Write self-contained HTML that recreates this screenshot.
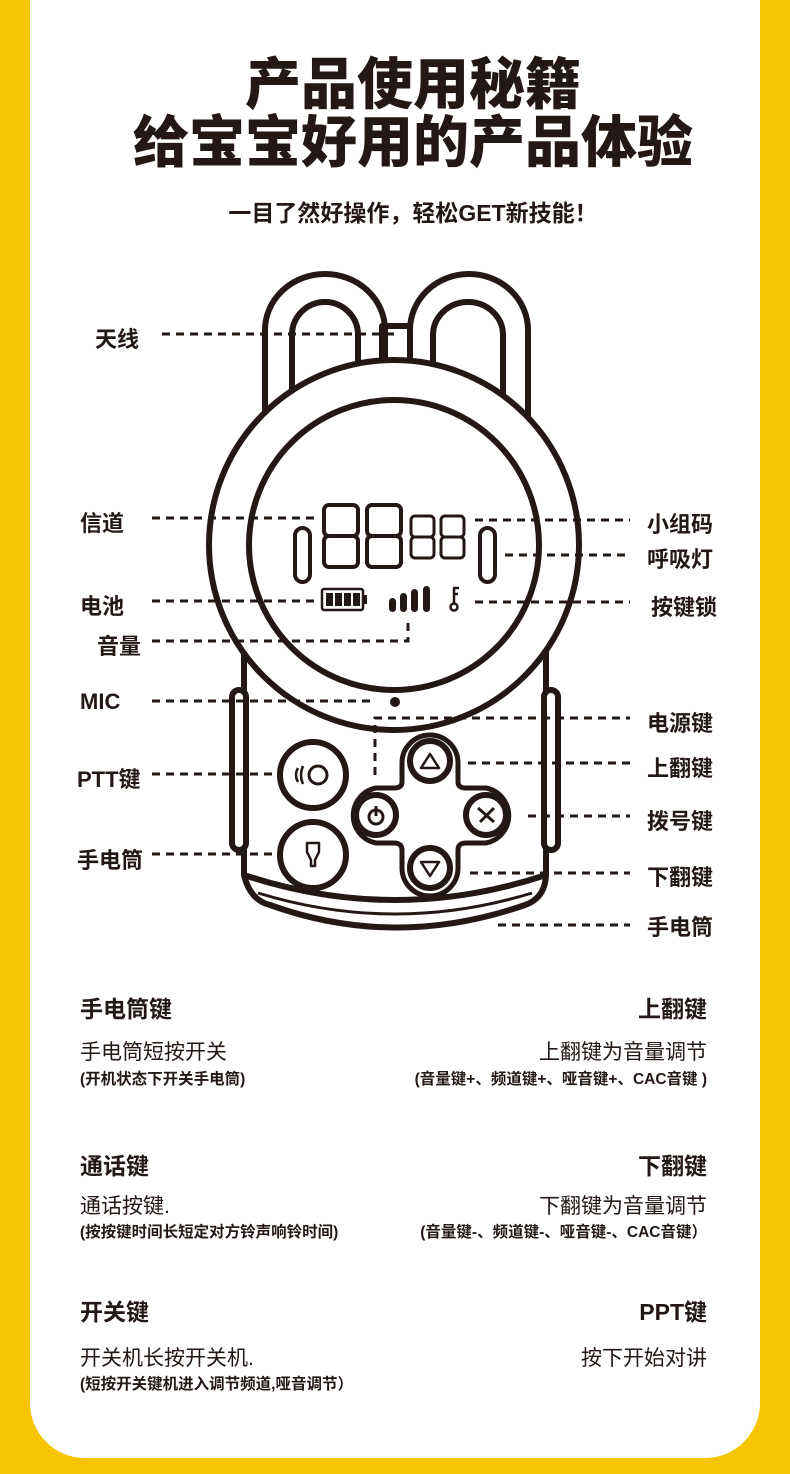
<!DOCTYPE html>
<html><head><meta charset="utf-8"><style>
body{margin:0;width:790px;height:1474px;background:#f6c500;position:relative;overflow:hidden;font-family:"Liberation Sans","Noto Sans CJK SC",sans-serif;color:#231815}
.card{position:absolute;left:30px;top:0;width:730px;height:1458px;background:#fff;border-radius:0 0 55px 55px}
.t{position:absolute;white-space:nowrap;font-weight:bold}
.c{left:0;width:790px;text-align:center}
.l{left:80px}.r{right:83px;text-align:right}
.h{font-size:22px}
.hh{font-size:23px}
.b{font-size:21px;font-weight:normal}
.s{font-size:15.5px;font-weight:bold}
</style></head><body>
<div class="card"></div>
<div class="t c" style="top:40px;font-size:56px;font-weight:900;left:18px">产品使用秘籍</div>
<div class="t c" style="top:98px;font-size:56px;font-weight:900;left:18px">给宝宝好用的产品体验</div>
<div class="t c" style="top:194px;font-size:23px;left:18px">一目了然好操作，轻松GET新技能！</div>

<svg style="position:absolute;left:0;top:0" width="790" height="960" viewBox="0 0 790 960">
<g fill="none" stroke="#231815" stroke-width="6" stroke-linejoin="round">
<path d="M265 420 V330 A60 56 0 0 1 385 330 V380"/>
<path d="M292 395 V335 A33 33 0 0 1 358 335 V375"/>
<path d="M528 420 V330 A59 56 0 0 0 410 330 V380"/>
<path d="M503 395 V335 A35 33 0 0 0 433 335 V375"/>
<path d="M382 368 V326 H410 V368"/>
<path d="M244 640 V875 Q395 925 546 875 V640"/>
<path d="M244 875 Q250 900 270 905 Q395 950 525 905 Q545 898 546 875"/>
<path d="M258 893 Q395 935 532 893" stroke-width="3"/>
<rect x="232" y="690" width="14" height="160" rx="7" fill="#fff"/>
<rect x="544" y="690" width="14" height="160" rx="7" fill="#fff"/>
<circle cx="394" cy="545" r="185" fill="#fff"/>
<circle cx="394" cy="545" r="145"/>
<circle cx="395" cy="702" r="4" fill="#231815" stroke-width="2"/>
<circle cx="313" cy="775" r="33"/>
<circle cx="313" cy="855" r="33"/>
<path d="M402 763 A28 28 0 0 1 458 763 V782 Q458 788 466 788 H486 A28 28 0 0 1 486 843 H466 Q458 843 458 850 V868 A28 28 0 0 1 402 868 V850 Q402 843 394 843 H376 A28 28 0 0 1 376 788 H394 Q402 788 402 782 Z" stroke-width="5"/>
<circle cx="430" cy="761" r="20"/>
<circle cx="430" cy="868" r="20"/>
<circle cx="376" cy="815" r="20"/>
<circle cx="486" cy="815" r="20"/>
<path d="M430 754 L439 768 H421 Z" stroke-width="2.5"/>
<path d="M430 876 L439 862 H421 Z" stroke-width="2.5"/>
<circle cx="376" cy="817" r="7" stroke-width="3"/>
<path d="M376 806 V816" stroke-width="3"/>
<circle cx="318" cy="775" r="9" stroke-width="3"/>
<path d="M298 768 Q294 775 298 782 M303 766 Q299 775 303 784" stroke-width="2.5"/>
<path d="M307 843 H319 V852 L315 860 V866 H311 V860 L307 852 Z" stroke-width="2.5"/>
<path d="M478 808 L494 822 M480 822 L494 808" stroke-width="3"/>
<rect x="295" y="528" width="15" height="54" rx="7.5" stroke-width="4"/>
<rect x="480" y="528" width="15" height="54" rx="7.5" stroke-width="4"/>
<g stroke-width="4">
<rect x="324" y="505" width="34" height="31" rx="5"/><rect x="324" y="536" width="34" height="31" rx="5"/>
<rect x="367" y="505" width="34" height="31" rx="5"/><rect x="367" y="536" width="34" height="31" rx="5"/>
</g>
<g stroke-width="3">
<rect x="411" y="516" width="23" height="21" rx="4"/><rect x="411" y="537" width="23" height="21" rx="4"/>
<rect x="441" y="516" width="23" height="21" rx="4"/><rect x="441" y="537" width="23" height="21" rx="4"/>
</g>
<rect x="322" y="589" width="41" height="21" rx="2" stroke-width="2.5"/>
<rect x="363" y="595" width="4" height="9" fill="#231815" stroke="none"/>
<g fill="#231815" stroke="none">
<rect x="326" y="593" width="7" height="13"/><rect x="335" y="593" width="7" height="13"/><rect x="344" y="593" width="7" height="13"/><rect x="353" y="593" width="7" height="13"/>
<rect x="389" y="598" width="7" height="14" rx="3.5"/><rect x="400" y="593" width="7" height="19" rx="3.5"/><rect x="411" y="589" width="7" height="23" rx="3.5"/><rect x="423" y="586" width="7" height="26" rx="3.5"/>
</g>
<circle cx="454" cy="607" r="3.5" stroke-width="2.5"/>
<path d="M454 603 V588 H459 M454 594 H458" stroke-width="2.5"/>
</g>
<g fill="none" stroke="#231815" stroke-width="3" stroke-dasharray="8 6">
<path d="M162 334 H400"/>
<path d="M152 518 H318"/>
<path d="M152 601 H318"/>
<path d="M152 641 H408 V620"/>
<path d="M152 701 H375"/>
<path d="M152 774 H276"/>
<path d="M152 854 H276"/>
<path d="M475 520 H630"/>
<path d="M505 555 H630"/>
<path d="M475 602 H630"/>
<path d="M375 775 V718 H630"/>
<path d="M468 763 H630"/>
<path d="M528 816 H630"/>
<path d="M470 873 H630"/>
<path d="M498 925 H630"/>
</g>
</svg>

<div class="t l h" style="top:322px;left:95px">天线</div>
<div class="t l h" style="top:506px">信道</div>
<div class="t l h" style="top:589px">电池</div>
<div class="t l h" style="top:629px;left:97px">音量</div>
<div class="t l h" style="top:689px">MIC</div>
<div class="t l h" style="top:762px;left:77px">PTT键</div>
<div class="t l h" style="top:843px;left:77px">手电筒</div>
<div class="t h" style="top:507px;left:647px">小组码</div>
<div class="t h" style="top:542px;left:647px">呼吸灯</div>
<div class="t h" style="top:590px;left:651px">按键锁</div>
<div class="t h" style="top:706px;left:647px">电源键</div>
<div class="t h" style="top:751px;left:647px">上翻键</div>
<div class="t h" style="top:804px;left:647px">拨号键</div>
<div class="t h" style="top:860px;left:647px">下翻键</div>
<div class="t h" style="top:910px;left:647px">手电筒</div>

<div class="t l hh" style="top:990px">手电筒键</div>
<div class="t l b" style="top:1036px">手电筒短按开关</div>
<div class="t l s" style="top:1067px">(开机状态下开关手电筒)</div>
<div class="t r hh" style="top:990px">上翻键</div>
<div class="t r b" style="top:1036px">上翻键为音量调节</div>
<div class="t r s" style="top:1067px">(音量键+、频道键+、哑音键+、CAC音键 )</div>

<div class="t l hh" style="top:1147px">通话键</div>
<div class="t l b" style="top:1190px">通话按键.</div>
<div class="t l s" style="top:1220px">(按按键时间长短定对方铃声响铃时间)</div>
<div class="t r hh" style="top:1147px">下翻键</div>
<div class="t r b" style="top:1190px">下翻键为音量调节</div>
<div class="t r s" style="top:1220px">(音量键-、频道键-、哑音键-、CAC音键）</div>

<div class="t l hh" style="top:1293px">开关键</div>
<div class="t l b" style="top:1342px">开关机长按开关机.</div>
<div class="t l s" style="top:1372px">(短按开关键机进入调节频道,哑音调节）</div>
<div class="t r hh" style="top:1293px">PPT键</div>
<div class="t r b" style="top:1342px">按下开始对讲</div>
</body></html>
